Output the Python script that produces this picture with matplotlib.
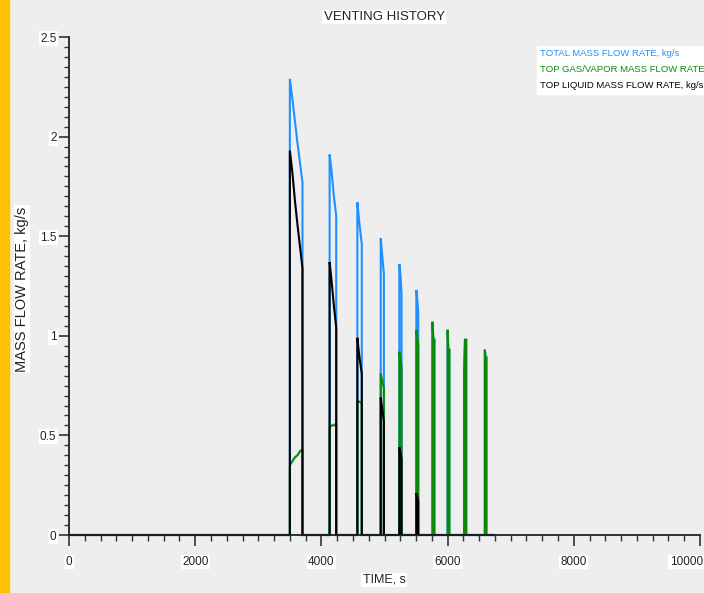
import matplotlib
matplotlib.use("Agg")
import matplotlib.pyplot as plt
from matplotlib.patches import Rectangle
from matplotlib.ticker import MultipleLocator

FONT = ["Liberation Sans", "DejaVu Sans"]

# --- data (time in s, rates in kg/s) ----------------------------------------
# each venting event: sample times, then the rate at those times
event_times = [
    [3500, 3540, 3580, 3620, 3660, 3700],
    [4130, 4160, 4195, 4235],
    [4570, 4600, 4640],
    [4940, 4965, 4990],
    [5235, 5255, 5270],
    [5505, 5520, 5535],
    [5760, 5775, 5790],
    [6000, 6012, 6028],
    [6262, 6275, 6295],
    [6590, 6602, 6615],
]
total_rate = [
    [2.29, 2.19, 2.08, 1.97, 1.87, 1.77],
    [1.91, 1.83, 1.71, 1.60],
    [1.67, 1.57, 1.46],
    [1.49, 1.40, 1.31],
    [1.36, 1.30, 1.21],
    [1.23, 1.18, 1.12],
    [1.07, 0.98, 0.98],
    [1.03, 0.93, 0.93],
    [0.81, 0.98, 0.98],
    [0.93, 0.89, 0.89],
]
gas_rate = [
    [0.35, 0.37, 0.39, 0.40, 0.42, 0.43],
    [0.54, 0.55, 0.55, 0.56],
    [0.67, 0.67, 0.66],
    [0.81, 0.77, 0.74],
    [0.92, 0.88, 0.84],
    [1.03, 0.99, 0.95],
    [1.07, 0.98, 0.98],
    [1.03, 0.93, 0.93],
    [0.81, 0.98, 0.98],
    [0.93, 0.89, 0.89],
]
liquid_rate = [
    [1.93, 1.82, 1.68, 1.56, 1.45, 1.34],
    [1.37, 1.28, 1.16, 1.04],
    [0.99, 0.90, 0.81],
    [0.69, 0.63, 0.57],
    [0.44, 0.41, 0.38],
    [0.21, 0.19, 0.17],
    [0.0, 0.0, 0.0],
    [0.0, 0.0, 0.0],
    [0.0, 0.0, 0.0],
    [0.0, 0.0, 0.0],
]
run_end = 6730

x_ticks = [0, 2000, 4000, 6000, 8000, 10000]
y_ticks = [0, 0.5, 1, 1.5, 2, 2.5]
y_tick_labels = ["0", "0.5", "1", "1.5", "2", "2.5"]

series = [
    ("TOTAL MASS FLOW RATE, kg/s", total_rate, "#1e90ff"),
    ("TOP GAS/VAPOR MASS FLOW RATE, kg/s", gas_rate, "#0a8a0a"),
    ("TOP LIQUID MASS FLOW RATE, kg/s", liquid_rate, "#000000"),
]


def build_series(rates):
    # rate is zero between vents: jump up at start, drop back at end
    t, y = [0.0], [0.0]
    for ts, vs in zip(event_times, rates):
        t += [ts[0]] + ts + [ts[-1]]
        y += [0.0] + vs + [0.0]
    t.append(run_end)
    y.append(0.0)
    return t, y


W, H = 704, 593
bg = "#eeeeee"
ink = "#222222"
fig = plt.figure(figsize=(W / 100, H / 100), dpi=100, facecolor=bg)
fig.patches.append(Rectangle((0, 0), 9 / W, 1, transform=fig.transFigure,
                             color="#ffc000", zorder=0))

ax = fig.add_axes([69 / W, 58 / H, 631 / W, 498 / H], facecolor=bg)
for name, rates, c in series:
    t, y = build_series(rates)
    ax.plot(t, y, color=c, lw=1.5, clip_on=False, solid_joinstyle="miter")

ax.set_xlim(0, 10000)
ax.set_ylim(0, 2.5)
for s in ("top", "right"):
    ax.spines[s].set_visible(False)
for s in ("left", "bottom"):
    ax.spines[s].set_linewidth(1.3)
    ax.spines[s].set_color(ink)

box = dict(facecolor="white", edgecolor="none", pad=1)

# x tick labels drawn by hand so the last one can hug the picture's edge
ax.set_xticks(x_ticks)
ax.set_xticklabels([])
ax.xaxis.set_minor_locator(MultipleLocator(250))
for i, v in enumerate(x_ticks):
    last = i == len(x_ticks) - 1
    ax.annotate(str(v), (v, 0), xycoords=("data", "axes fraction"),
                xytext=(3 if last else 0, -27), textcoords="offset pixels",
                ha="right" if last else "center", va="center",
                fontsize=8.5, family=FONT, color=ink, bbox=box)

ax.set_yticks(y_ticks)
ax.set_yticklabels(y_tick_labels)
ax.yaxis.set_minor_locator(MultipleLocator(0.05))
ax.tick_params(axis="x", which="major", length=8, width=1.2,
               color="#333333")
ax.tick_params(axis="x", which="minor", length=4, width=1.0, color="#333333")
ax.tick_params(axis="y", which="major", length=7, width=1.2, pad=2,
               color="#333333")
ax.tick_params(axis="y", which="minor", length=3.5, width=1.0,
               color="#333333")
for lbl in ax.get_yticklabels():
    lbl.set_fontfamily(FONT)
    lbl.set_fontsize(8.5)
    lbl.set_color(ink)
    lbl.set_bbox(box)

fig.text(384 / W, 1 - 17 / H, "VENTING HISTORY", ha="center", va="center",
         fontsize=9.5, family=FONT, color=ink, bbox=box)
fig.text(384 / W, 1 - 580 / H, "TIME, s", ha="center", va="center",
         fontsize=9, family=FONT, color=ink, bbox=box)
fig.text(22 / W, 1 - 289 / H, "MASS FLOW RATE, kg/s", ha="center",
         va="center", rotation=90, fontsize=10.5, family=FONT,
         color=ink, bbox=box)

# legend: plain coloured labels on a white strip, top right
fig.patches.append(Rectangle((537 / W, 1 - 94 / H), 167 / W, 48 / H,
                             transform=fig.transFigure, color="white",
                             zorder=1))
for i, (name, rates, c) in enumerate(series):
    fig.text(540 / W, 1 - (53 + 16.5 * i) / H, name, ha="left", va="center",
             fontsize=6.8, family=FONT, color=c, zorder=2)

fig.savefig("out.png", dpi=100, facecolor=bg)
